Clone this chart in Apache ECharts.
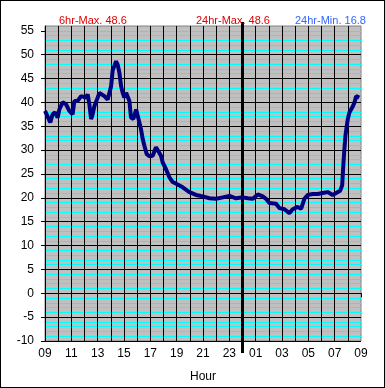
<!DOCTYPE html>
<html>
<head>
<meta charset="utf-8">
<script src="https://cdn.jsdelivr.net/npm/echarts@6/dist/echarts.min.js"></script>
<style>
html,body{margin:0;padding:0;background:#fff;}
#wrap{position:relative;width:385px;height:388px;}
#chart{position:absolute;left:0;top:0;width:385px;height:388px;}
#frame{position:absolute;left:0;top:0;width:385px;height:388px;box-sizing:border-box;border:1px solid #000;pointer-events:none;}
</style>
</head>
<body>
<div id="wrap"><div id="chart"></div><div id="frame"></div></div>
<script>
// Hours elapsed since 09:00 (start of the 24-hour window)
const hours = [0,0.08,0.40,0.58,0.76,0.96,1.09,1.34,1.60,1.85,2.10,2.23,2.48,2.74,2.86,3.12,3.24,3.37,3.50,3.62,3.75,4.00,4.13,4.51,4.76,4.89,5.02,5.14,5.40,5.52,5.65,5.78,5.90,6.03,6.16,6.28,6.41,6.53,6.71,6.92,7.04,7.17,7.29,7.42,7.55,7.72,7.93,8.18,8.43,8.56,8.81,8.94,9.19,9.45,9.70,10.00,10.46,10.97,11.47,11.98,12.49,12.99,13.50,14.01,14.51,15.02,15.40,15.78,16.16,16.54,16.79,17.04,17.55,17.80,18.19,18.56,18.81,19.19,19.45,19.70,19.95,20.33,20.71,21.09,21.47,21.85,22.11,22.42,22.57,22.61,22.67,22.74,22.82,22.92,23.00,23.12,23.33,23.50,23.63,23.75,23.87];
const temps = [38.2,37.9,35.8,37.5,37.9,36.8,38.5,40.0,39.6,38.2,37.5,40.3,40.3,41.3,41.7,41.0,41.7,39.6,36.5,37.5,39.2,41.0,42.0,41.3,40.6,40.3,43.4,46.7,48.6,47.9,46.2,43.4,42.0,41.0,42.0,42.0,40.3,36.8,36.5,38.5,38.2,35.8,34.4,32.3,30.9,29.2,28.7,28.8,30.6,30.9,28.8,27.4,26.0,24.3,23.3,22.9,22.2,21.2,20.6,20.3,19.9,19.8,20.1,20.4,19.9,20.1,19.9,19.8,20.7,20.3,19.8,18.9,18.75,17.85,17.6,16.8,17.6,18.1,17.7,19.8,20.6,20.8,20.8,21.0,21.2,20.6,21.0,21.5,22.6,24.6,27.4,30.2,33.0,35.1,36.5,37.9,38.9,39.9,41.3,41.5,41.0];
const hourLabels = ['09','11','13','15','17','19','21','23','01','03','05','07','09'];
const yTicks = [-10,-5,0,5,10,15,20,25,30,35,40,45,50,55];
const midnightHour = 15;
const statTexts = ['6hr-Max. 48.6','24hr-Max. 48.6','24hr-Min. 16.8'];

const FONT = 'Liberation Sans, Arial, sans-serif';
const chart = echarts.init(document.getElementById('chart'), null, {renderer:'canvas'});
const series = hours.map((h,i)=>[h,temps[i]]);

chart.setOption({
  animation:false,
  title:[
    {text:statTexts[0], left:54, top:10, textStyle:{color:'#e00000',fontSize:11,fontWeight:'normal',fontFamily:FONT}},
    {text:statTexts[1], left:191, top:10, textStyle:{color:'#e00000',fontSize:11,fontWeight:'normal',fontFamily:FONT}},
    {text:statTexts[2], left:290, top:10, textStyle:{color:'#3366ff',fontSize:11,fontWeight:'normal',fontFamily:FONT}}
  ],
  grid:[
    {left:45, right:24, top:26, bottom:45, show:true, backgroundColor:'#c0c0c0', borderColor:'#808080', borderWidth:1},
    {left:45, right:24, top:22, bottom:35, show:false}
  ],
  xAxis:[
    {type:'value', gridIndex:0, min:0, max:24, interval:2, position:'bottom',
     name:'Hour', nameLocation:'middle', nameGap:30,
     nameTextStyle:{color:'#000',fontSize:12,fontFamily:FONT},
     axisLine:{show:true,lineStyle:{color:'#000',width:1}},
     axisTick:{show:true,length:4,lineStyle:{color:'#000'}},
     axisLabel:{color:'#000',fontSize:12,fontFamily:FONT,margin:7,formatter:(v)=>hourLabels[Math.round(v/2)]},
     splitLine:{show:true,showMaxLine:false,lineStyle:{color:'#000',width:1}},
     minorTick:{show:false,splitNumber:2},
     minorSplitLine:{show:true,lineStyle:{color:'#000',width:1}},
     z:3},
    {type:'value', gridIndex:1, min:0, max:24, show:false}
  ],
  yAxis:[
    {type:'value', gridIndex:0, min:-10, max:56, interval:1, position:'left',
     axisLine:{show:false}, axisTick:{show:false}, axisLabel:{show:false},
     splitLine:{show:true,showMaxLine:false,lineStyle:{color:'#00ffff',width:1}}, z:1},
    {type:'value', gridIndex:0, min:-10, max:56, interval:5, position:'left', offset:0,
     axisLine:{show:true,lineStyle:{color:'#000',width:1}},
     axisTick:{show:true,length:4,lineStyle:{color:'#000'},customValues:yTicks},
     axisLabel:{color:'#000',fontSize:12,fontFamily:FONT,margin:11,customValues:yTicks},
     splitLine:{show:true,showMaxLine:false,lineStyle:{color:'#000',width:1}}, z:2},
    {type:'value', gridIndex:1, min:0, max:1, show:false}
  ],
  series:[
    {type:'line', xAxisIndex:0, yAxisIndex:1, data:series, showSymbol:false, symbol:'none',
     lineStyle:{color:'#000080',width:4}, z:5},
    {type:'line', xAxisIndex:1, yAxisIndex:2, data:[], silent:true,
     markLine:{silent:true, symbol:'none', label:{show:false},
       lineStyle:{color:'#000',width:3,type:'solid'},
       data:[{xAxis:midnightHour}]}, z:6}
  ]
});
</script>
</body>
</html>
